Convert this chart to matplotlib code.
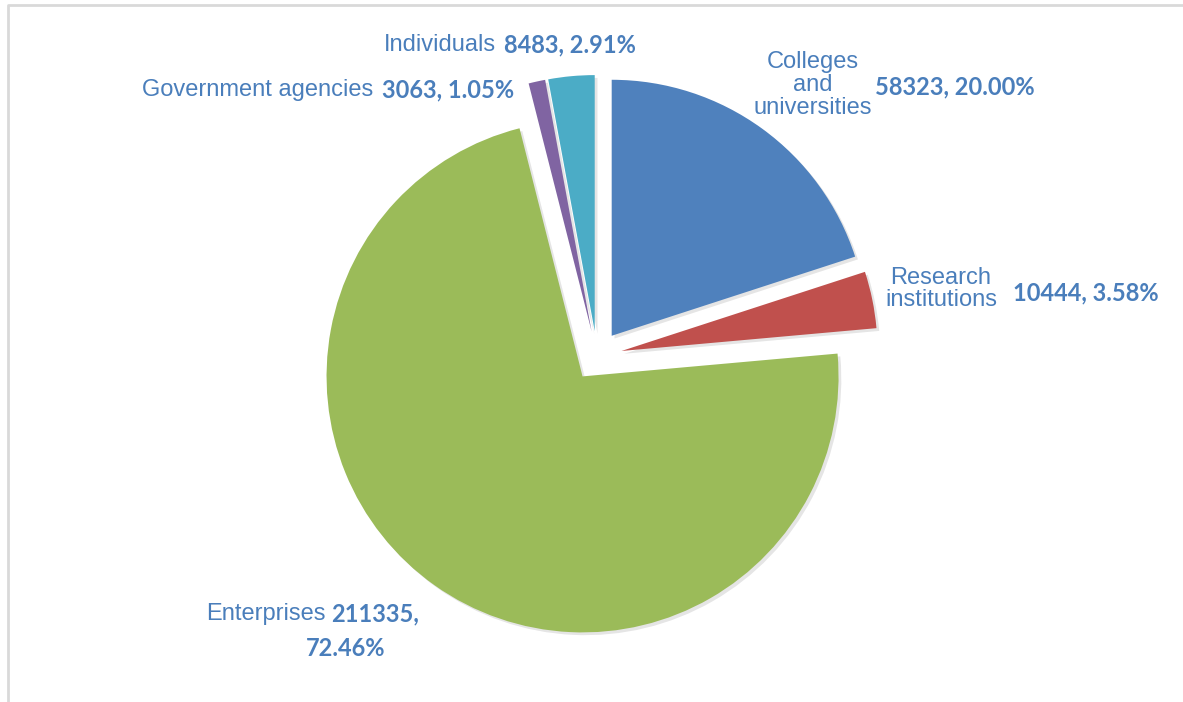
import matplotlib

matplotlib.use("Agg")

import matplotlib.pyplot as plt
import matplotlib.patheffects as pe

# Data, clockwise from 12 o'clock
categories = ["Colleges and universities", "Research institutions", "Enterprises",
              "Government agencies", "Individuals"]
values = [58323, 10444, 211335, 3063, 8483]
colors = ["#4F81BD", "#C0504D", "#9BBB59", "#8064A2", "#4BACC6"]

C_LABEL = "#4A7EBB"
W, H = 1183, 702
RADIUS = 256
GAP = 25  # pie explode is in data units, here pixels

fig = plt.figure(figsize=(W / 100, H / 100), dpi=100)
ax = fig.add_axes([0, 0, 1, 1])

wedges, _ = ax.pie(
    values,
    colors=colors,
    explode=[GAP] * len(values),
    startangle=90,
    counterclock=False,
    radius=RADIUS,
    center=(597, H - 356),
    wedgeprops=dict(linewidth=0),
    frame=True,
)
for w in wedges:
    w.set_path_effects([
        pe.SimplePatchShadow(offset=(2, -2), shadow_rgbFace="#000000", alpha=0.10),
        pe.Normal(),
    ])

ax.set_xlim(0, W)
ax.set_ylim(0, H)
ax.set_aspect("equal")
ax.set_axis_off()

total = sum(values)
pct = [v / total * 100 for v in values]
val_txt = [f"{v}, {p:.2f}%" for v, p in zip(values, pct)]

name_kw = dict(family="Liberation Sans", fontsize=17, color=C_LABEL)
val_kw = dict(family="Lato", fontsize=17, fontweight="bold", color=C_LABEL)


def y(px):
    return H - px


# Individuals
ax.text(496, y(45), "Individuals", ha="right", va="center", **name_kw)
ax.text(504, y(45), val_txt[4], ha="left", va="center", **val_kw)

# Government agencies
ax.text(373, y(90), "Government agencies", ha="right", va="center", **name_kw)
ax.text(382, y(90), val_txt[3], ha="left", va="center", **val_kw)

# Colleges and universities
ax.text(813, y(85), "Colleges\nand\nuniversities", ha="center", va="center",
        linespacing=1.08, **name_kw)
ax.text(875, y(87), val_txt[0], ha="left", va="center", **val_kw)

# Research institutions
ax.text(941, y(289), "Research\ninstitutions", ha="center", va="center",
        linespacing=1.05, **name_kw)
ax.text(1013, y(293), val_txt[1], ha="left", va="center", **val_kw)

# Enterprises
ax.text(326, y(614), "Enterprises", ha="right", va="center", **name_kw)
ax.text(331, y(614), f"{values[2]},", ha="left", va="center", **val_kw)
ax.text(346, y(649), f"{pct[2]:.2f}%", ha="center", va="center", **val_kw)

# light frame on top and left
ax.plot([8, 8, W], [0, y(5), y(5)], color="#D9D9D9", lw=2.0, solid_capstyle="butt")

fig.savefig("out.png", dpi=100, facecolor="white")
